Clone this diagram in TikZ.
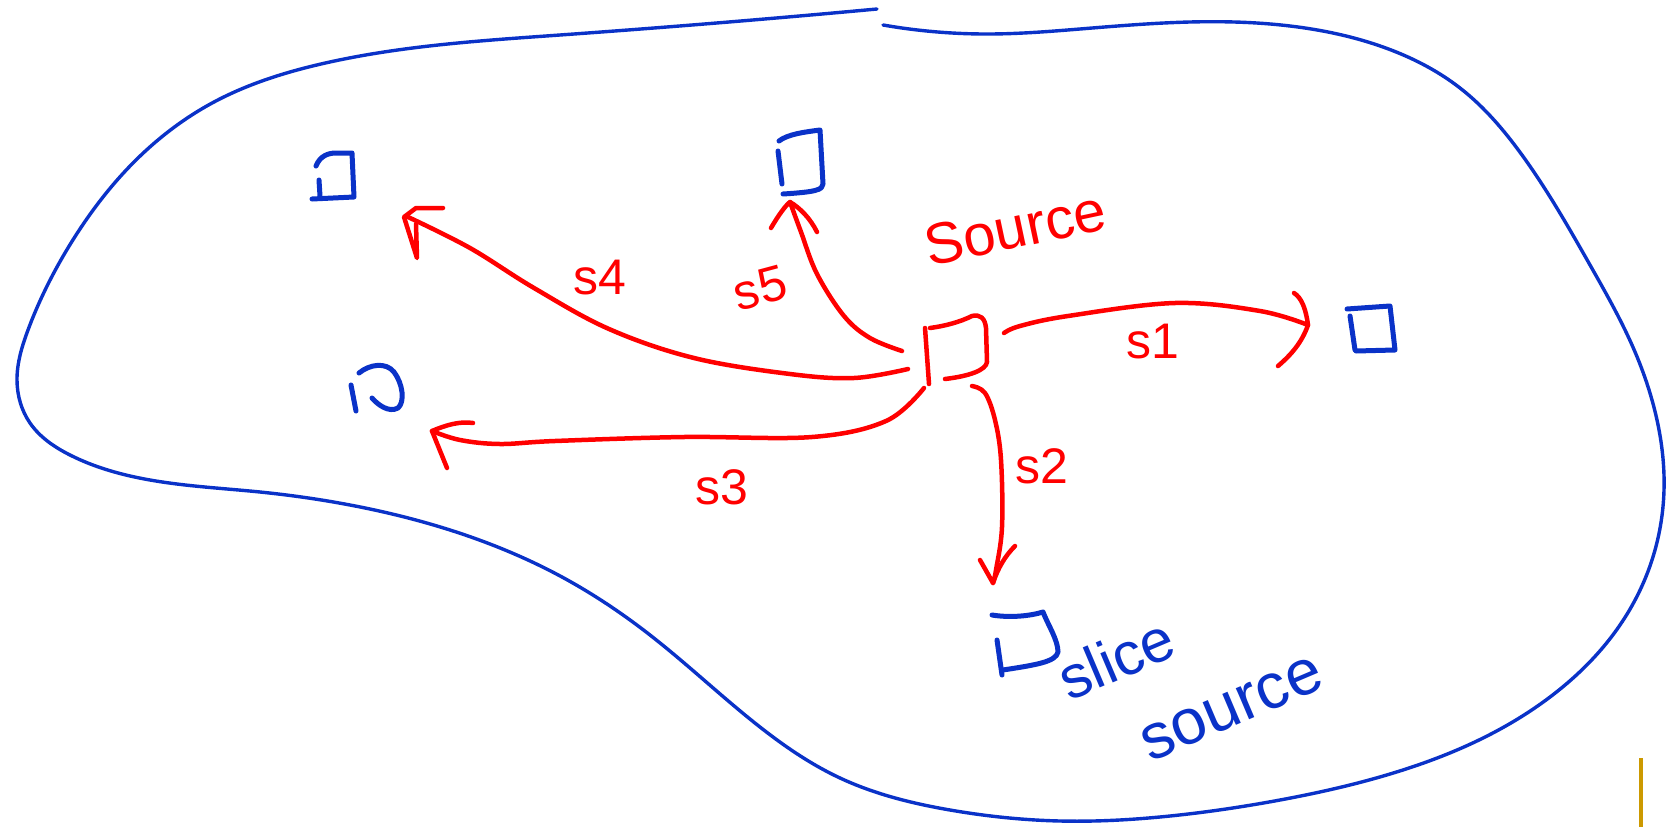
\documentclass[tikz,border=0pt]{standalone}
\usepackage{fontspec}
\setmainfont{Liberation Sans}
\usetikzlibrary{hobby}
\definecolor{hblue}{RGB}{10,50,200}
\definecolor{hred}{RGB}{255,0,0}
\definecolor{hgold}{RGB}{204,153,0}
\begin{document}
\begin{tikzpicture}[x=1pt,y=-1pt,
  outline/.style={draw=hblue,line width=3.4pt,line cap=round,line join=round},
  bbox/.style={draw=hblue,line width=5pt,line cap=round,line join=round},
  rbox/.style={draw=hred,line width=4.5pt,line cap=round,line join=round},
  rline/.style={draw=hred,line width=4.5pt,line cap=round,line join=round},
  lab/.style={inner sep=0pt,text=hred,font=\fontsize{50}{60}\selectfont},
  blab/.style={inner sep=0pt,text=hblue},
]
\useasboundingbox (0,0) rectangle (1675,827);
\fill[white] (0,0) rectangle (1675,827);

% region outline
\draw[outline,use Hobby shortcut] (877,9) .. (560,35) .. (321,64) .. (214,102)
 .. (136,160) .. (71,243) .. (28,330) .. (17,380) .. (30,423) .. (70,455)
 .. (150,480) .. (260,492) .. (350,505) .. (450,530) .. (562,577) .. (650,635)
 .. (739,710) .. (840,778) .. (950,810) .. (1060,821) .. (1170,816)
 .. (1280,800) .. (1390,774) .. (1479,740) .. (1559,690) .. (1620,625)
 .. (1652,560) .. (1664,490) .. (1657,420) .. (1632,345) .. (1590,265)
 .. (1522,155) .. (1460,88) .. (1383,47) .. (1290,26) .. (1190,22)
 .. (1080,29) .. (990,34) .. (883,25);

% named anchors
\coordinate (src) at (955,350);
\coordinate (s1a) at (1004,333); \coordinate (s1b) at (1308,325);
\coordinate (s2a) at (972,386);  \coordinate (s2b) at (993,583);
\coordinate (s3a) at (924,388);  \coordinate (s3b) at (432,431);
\coordinate (s4a) at (908,369);  \coordinate (s4b) at (408,217);
\coordinate (s5a) at (902,351);  \coordinate (s5b) at (790,202);

% source square
\draw[rbox] (925,328) -- (929,384);
\draw[rbox] (930,328) .. controls (945,326) and (960,322) .. (972,316)
  .. controls (980,314) and (985,318) .. (986,328) -- (987,362)
  .. controls (986,370) and (970,376) .. (945,379);

% blue squares
\draw[bbox] (316,166) .. controls (320,156) and (328,153) .. (336,153) -- (352,153)
  -- (354,197) -- (312,199);
\draw[bbox] (319,180) -- (320,196);
\draw[bbox] (779,141) .. controls (788,134) and (805,132) .. (820,130)
  -- (823,184) .. controls (823,190) and (815,192) .. (783,194);
\draw[bbox] (778,151) -- (782,184);
\draw[bbox] (351,385) -- (356,411);
\draw[bbox] (359,373) .. controls (370,364) and (386,362) .. (394,372)
  .. controls (403,384) and (405,402) .. (398,408)
  .. controls (389,413) and (378,405) .. (372,398);
\draw[bbox] (1347,309) -- (1390,306) -- (1395,350) -- (1356,351);
\draw[bbox] (1350,316) -- (1355,350);
\draw[bbox] (992,615) .. controls (1010,618) and (1030,616) .. (1043,612)
  .. controls (1048,625) and (1058,640) .. (1058,652)
  .. controls (1056,662) and (1035,665) .. (1003,670);
\draw[bbox] (997,640) -- (1002,675);

% connectors
\draw[rline] plot[smooth,tension=0.6] coordinates {(s1a) (1020,326) (1068,316) (1175,303) (1260,311) (s1b)};
\draw[rline] (1294,293) .. controls (1302,298) and (1306,310) .. (s1b)
  .. controls (1302,342) and (1292,354) .. (1278,366);

\draw[rline] plot[smooth,tension=0.6] coordinates {(s2a) (985,393) (995,420) (1001,460) (1002,527) (996,570) (s2b)};
\draw[rline] (980,560) -- (s2b) .. controls (998,568) and (1005,556) .. (1015,546);

\draw[rline] plot[smooth,tension=0.6] coordinates {(s3a) (886,421) (812,437) (684,437) (555,441) (500,444) (460,440) (s3b)};
\draw[rline] (473,423) .. controls (460,421) and (446,425) .. (s3b) -- (447,468);

\draw[rline] plot[smooth,tension=0.6] coordinates {(s4a) (854,378) (790,374) (694,358) (609,329) (534,288) (470,248) (s4b)};
\draw[rline] (443,208) -- (416,208) -- (404,217) -- (417,258) -- (416,224);

\draw[rline] plot[smooth,tension=0.6] coordinates {(s5a) (870,338) (844,316) (817,274) (801,232) (s5b)};
\draw[rline] (771,228) .. controls (778,216) and (785,206) .. (s5b)
  .. controls (800,208) and (810,218) .. (817,232);

% labels
\node[lab,rotate=12,font=\fontsize{58}{70}\selectfont] (srclab) at (1015,228) {Source};
\node[lab] (l4) at (600,278) {s4};
\node[lab,rotate=15] (l5) at (760,288) {s5};
\node[lab] (l1) at (1153,342) {s1};
\node[lab] (l2) at (1042,466) {s2};
\node[lab] (l3) at (722,487) {s3};
\node[blab,rotate=23,font=\fontsize{60}{72}\selectfont] (slice) at (1116,658) {slice};
\node[blab,rotate=23,font=\fontsize{64}{76}\selectfont] (ssrc) at (1232,709) {source};

% gold bar
\coordinate (g1) at (1641,758); \coordinate (g2) at (1641,827);
\draw[hgold,line width=4pt] (g1) -- (g2);
\end{tikzpicture}
\end{document}
